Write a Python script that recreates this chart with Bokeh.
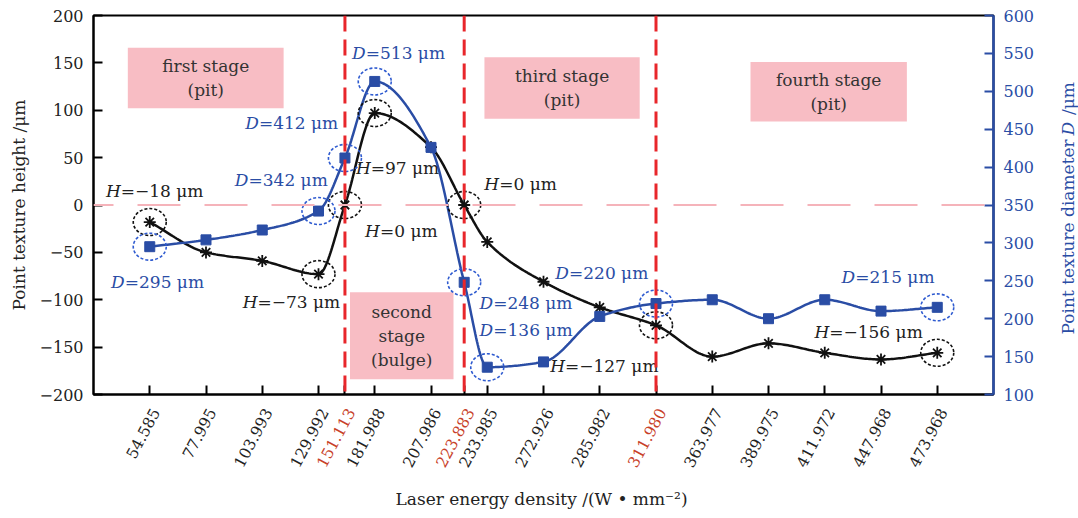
import numpy as np
from bokeh.plotting import figure
from bokeh.layouts import row, column
from bokeh.models import Range1d, LinearAxis, FixedTicker, Span, ColumnDataSource
from bokeh.core.properties import value
from bokeh.embed import file_html
from bokeh.resources import INLINE

# ---- data -------------------------------------------------------------
energy = ["54.585", "77.995", "103.993", "129.992", "151.113", "181.988",
          "207.986", "223.883", "233.985", "272.926", "285.982", "311.980",
          "363.977", "389.975", "411.972", "447.968", "473.968"]
# place of each energy on the (non-linear) category axis
tick_slot = [0, 1, 2, 3, 3.47, 4, 5, 5.59, 6, 7, 8, 9, 10, 11, 12, 13, 14]
height_um = [-18, -50, -59, -73, 0, 97, 61, 0, -39, -81, -108, -127,
             -160, -146, -156, -163, -156]
diameter_um = [295, 304, 317, 342, 412, 513, 426, 248, 136, 143, 203, 220,
               225, 200, 225, 210, 215]
stage_edges = ["151.113", "223.883", "311.980"]
stage_names = ["first stage\n(pit)", "second\nstage\n(bulge)",
               "third stage\n(pit)", "fourth stage\n(pit)"]

# points called out with a value label: (index, dx, dy) offsets in px
h_notes = [(0, -29, -31), (3, -61, 28), (4, 35, 26), (5, -4, 55),
           (7, 35, -21), (11, -91, 41), (16, -108, -21)]
d_notes = [(0, -25, 35), (3, -70, -31), (4, -86, -35), (5, -9, -28),
           (7, 29, 21), (8, 6, -37), (11, -87, -31), (16, -82, -30)]

# ---- geometry ---------------------------------------------------------
W, H = 1078, 518
FL, FR, FT, FB = 93, 993, 15, 394
MAIN_W, MAIN_H = 1045, 404
X0, X1 = -1, 15
HL, HH = -200, 200
DL, DH = 100, 600
KX = (FR - FL) / (X1 - X0)
KH = (FB - FT) / (HH - HL)
KD = (FB - FT) / (DH - DL)

def xd(px):
    return X0 + (px - FL) / KX

FONT = "DejaVu Serif"
SERIF = value(FONT)
BLUE = "#2a4da5"
BLACK = "#111111"
RED = "#e8262b"
PINK = "#f8bdc4"
TXT = "17px"

def pchip(xs, ys, steps=30):
    """Monotone (Fritsch-Carlson) cubic through the points."""
    x = np.asarray(xs, float)
    y = np.asarray(ys, float)
    h = np.diff(x)
    d = np.diff(y) / h
    m = np.zeros_like(y)
    m[0], m[-1] = d[0], d[-1]
    for k in range(1, len(x) - 1):
        if d[k - 1] * d[k] > 0:
            w1 = 2 * h[k] + h[k - 1]
            w2 = h[k] + 2 * h[k - 1]
            m[k] = (w1 + w2) / (w1 / d[k - 1] + w2 / d[k])
    X, Y = [], []
    for k in range(len(x) - 1):
        t = np.linspace(0, 1, steps)[(0 if k == 0 else 1):]
        h00 = 2 * t**3 - 3 * t**2 + 1
        h10 = t**3 - 2 * t**2 + t
        h01 = -2 * t**3 + 3 * t**2
        h11 = t**3 - t**2
        X.append(x[k] + t * h[k])
        Y.append(h00 * y[k] + h10 * h[k] * m[k] + h01 * y[k + 1] + h11 * h[k] * m[k + 1])
    return np.concatenate(X), np.concatenate(Y)

def fmt(v):
    return ("\u2212" if v < 0 else "") + str(abs(int(v)))

# ---- main plot --------------------------------------------------------
p = figure(frame_width=FR - FL, frame_height=FB - FT,
           x_range=Range1d(X0, X1), y_range=Range1d(HL, HH),
           output_backend="svg", toolbar_location=None,
           min_border_left=FL, min_border_right=MAIN_W - FR,
           min_border_top=FT, min_border_bottom=MAIN_H - FB)
p.extra_y_ranges = {"d": Range1d(DL, DH)}
p.xgrid.visible = False
p.ygrid.visible = False
p.outline_line_color = "black"
p.outline_line_width = 2
p.background_fill_color = "white"
p.border_fill_color = "white"

# left axis
ya = p.yaxis[0]
ya.ticker = FixedTicker(ticks=list(range(-200, 201, 50)))
ya.major_label_overrides = {v: fmt(v) for v in range(-200, 201, 50)}
ya.major_tick_in = 9
ya.major_tick_out = 0
ya.minor_tick_line_color = None
ya.axis_line_width = 2
ya.major_tick_line_width = 2
ya.major_label_text_font = FONT
ya.major_label_text_font_size = "16px"
ya.major_label_text_color = "#222222"
ya.major_label_standoff = 10
ya.axis_label = "Point texture height /\u03bcm"
ya.axis_label_text_font = FONT
ya.axis_label_text_font_size = TXT
ya.axis_label_text_font_style = "normal"
ya.axis_label_text_color = "#222222"
ya.axis_label_standoff = 8

# bottom axis: ticks only, labels are set in the strip underneath
xa = p.xaxis[0]
xa.ticker = FixedTicker(ticks=tick_slot)
xa.major_label_overrides = {s: "" for s in tick_slot}
xa.major_label_text_font_size = "1px"
xa.major_label_standoff = 0
xa.major_tick_in = 9
xa.major_tick_out = 0
xa.minor_tick_line_color = None
xa.axis_line_width = 2
xa.major_tick_line_width = 2

# right axis
ra = LinearAxis(y_range_name="d", ticker=FixedTicker(ticks=list(range(100, 601, 50))))
ra.axis_line_color = BLUE
ra.axis_line_width = 2.5
ra.major_tick_line_color = BLUE
ra.major_tick_line_width = 2
ra.major_tick_in = 9
ra.major_tick_out = 0
ra.minor_tick_line_color = None
ra.major_label_text_color = BLUE
ra.major_label_text_font = FONT
ra.major_label_text_font_size = "16px"
ra.major_label_standoff = 10
p.add_layout(ra, "right")

# stage boxes
boxes = [(-0.39, 2.38, 102, 166), (3.56, 5.40, -184, -92),
         (5.95, 8.71, 91, 156), (10.68, 13.46, 88, 151)]
p.quad(left=[b[0] for b in boxes], right=[b[1] for b in boxes],
       bottom=[b[2] for b in boxes], top=[b[3] for b in boxes],
       fill_color=PINK, line_color=None)
p.text(x=[(b[0] + b[1]) / 2 for b in boxes], y=[(b[2] + b[3]) / 2 for b in boxes],
       text=stage_names, text_align="center", text_baseline="middle",
       text_font=SERIF, text_font_size=TXT, text_color="#333333",
       text_line_height=1.2)

# zero reference line and stage boundaries
p.add_layout(Span(location=0, dimension="width", line_color="#f5b3ba",
                  line_width=2, line_dash="43 24", line_dash_offset=23))
for e in stage_edges:
    p.add_layout(Span(location=tick_slot[energy.index(e)], dimension="height",
                      line_color=RED, line_width=3, line_dash="16 8"))

# curves
hx, hy = pchip(tick_slot, height_um)
p.line(hx, hy, line_color=BLACK, line_width=2.5)
dxs, dys = pchip(tick_slot, diameter_um)
p.line(dxs, dys, line_color=BLUE, line_width=2.5, y_range_name="d")

# markers
p.scatter(tick_slot, height_um, marker="asterisk", size=12, line_color=BLACK,
          line_width=1.8)
p.scatter(tick_slot, diameter_um, marker="square", size=10, fill_color=BLUE,
          line_color=BLUE, y_range_name="d")

# dashed rings around the annotated points
hi = [n[0] for n in h_notes]
di = [n[0] for n in d_notes]
p.ellipse(x=[tick_slot[i] for i in hi], y=[height_um[i] for i in hi],
          width=33, height=27, width_units="screen", height_units="screen",
          fill_color=None, line_color=BLACK, line_width=1.6, line_dash="3 2")
p.ellipse(x=[tick_slot[i] for i in di], y=[diameter_um[i] for i in di],
          width=33, height=27, width_units="screen", height_units="screen",
          fill_color=None, line_color="#2f5bd0", line_width=1.6, line_dash="3 2",
          y_range_name="d")

# value call-outs: italic symbol + upright value
def callouts(notes, xs, ys, letter, color, rng):
    src = ColumnDataSource(dict(
        x=[xs[i] for i, _, _ in notes], y=[ys[i] for i, _, _ in notes],
        ox=[a for _, a, _ in notes], oy=[b for _, _, b in notes],
        sym=[letter] * len(notes),
        val=["=" + fmt(ys[i]) + " \u03bcm" for i, _, _ in notes]))
    kw = dict(x="x", y="y", x_offset="ox", y_offset="oy", source=src,
              text_baseline="middle", text_font=SERIF, text_font_size=TXT,
              text_color=color)
    if rng:
        kw["y_range_name"] = rng
    p.text(text="sym", text_align="right", text_font_style="italic", **kw)
    p.text(text="val", text_align="left", **kw)

callouts(h_notes, tick_slot, height_um, "H", "#222222", None)
callouts(d_notes, tick_slot, diameter_um, "D", BLUE, "d")

# ---- strip under the plot: energy labels and x title --------------------
SH = H - MAIN_H
b = figure(width=W, height=SH, x_range=Range1d(xd(0), xd(W)), y_range=Range1d(0, SH),
           x_axis_type=None, y_axis_type=None, output_backend="svg",
           toolbar_location=None, min_border=0)
b.outline_line_color = None
b.background_fill_color = "white"
b.border_fill_color = "white"

def sy(py):
    return H - py

b.text(x=[s + 6 / KX for s in tick_slot], y=[sy(409)] * len(tick_slot), text=energy,
       angle=np.deg2rad(62), text_align="right", text_baseline="middle",
       text_font=SERIF, text_font_size="15.5px",
       text_color=["#c8412a" if e in stage_edges else "#222222" for e in energy])
b.text(x=[xd(541)], y=[sy(498)], text=["Laser energy density /(W \u2022 mm\u207b\u00b2)"],
       text_align="center", text_baseline="middle", text_font=SERIF,
       text_font_size=TXT, text_color="#222222")

# ---- strip right of the plot: diameter axis title ----------------------
RW = W - MAIN_W
r = figure(width=RW, height=MAIN_H, x_range=Range1d(MAIN_W, W), y_range=Range1d(0, MAIN_H),
           x_axis_type=None, y_axis_type=None, output_backend="svg",
           toolbar_location=None, min_border=0)
r.outline_line_color = None
r.background_fill_color = "white"
r.border_fill_color = "white"
for txt, py, align, style in [("Point texture diameter", 132, "right", "normal"),
                              ("D", 128, "left", "italic"),
                              ("/\u03bcm", 106, "left", "normal")]:
    r.text(x=[1067], y=[MAIN_H - py], text=[txt], angle=np.pi / 2,
           text_align=align, text_baseline="middle", text_font=SERIF,
           text_font_size=TXT, text_font_style=style, text_color=BLUE)

layout = column(row(p, r), b)
open("out.html", "w").write(file_html(layout, INLINE))
